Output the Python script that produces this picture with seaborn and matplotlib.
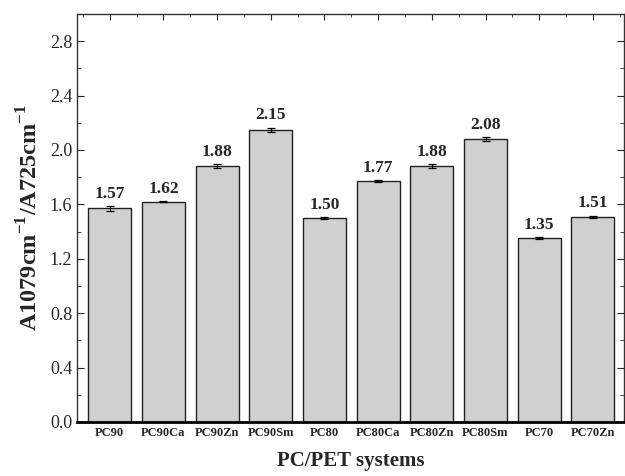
import matplotlib
matplotlib.use("Agg")
import matplotlib.pyplot as plt
import seaborn as sns
import numpy as np
from matplotlib.ticker import MultipleLocator

categories = ["PC90", "PC90Ca", "PC90Zn", "PC90Sm", "PC80", "PC80Ca", "PC80Zn", "PC80Sm", "PC70", "PC70Zn"]
values = [1.57, 1.62, 1.88, 2.15, 1.50, 1.77, 1.88, 2.08, 1.35, 1.51]
errors = [0.02, 0.006, 0.015, 0.015, 0.008, 0.006, 0.015, 0.015, 0.008, 0.008]
labels = ["1.57", "1.62", "1.88", "2.15", "1.50", "1.77", "1.88", "2.08", "1.35", "1.51"]

sns.set_style("ticks")
plt.rcParams['font.family'] = ['Liberation Serif', 'DejaVu Serif']
plt.rcParams['mathtext.fontset'] = 'custom'
plt.rcParams['mathtext.rm'] = 'Liberation Serif'
plt.rcParams['mathtext.bf'] = 'Liberation Serif:bold'

fig = plt.figure(figsize=(6.25, 4.76), dpi=100)
ax = fig.add_axes([77/625, 54/476, (624-77)/625, (422-14)/476])

sns.barplot(x=categories, y=values, color="#d0d0d0", edgecolor="#222222",
            linewidth=1.0, width=0.8, saturation=1, ax=ax, errorbar=None)
x = np.arange(len(categories))
ax.errorbar(x, values, yerr=errors, fmt="none", ecolor="black", elinewidth=0.9, capsize=3, capthick=0.9)
for xi, v, e, lab in zip(x, values, errors, labels):
    ax.text(xi, v + e + 0.03, lab, ha="center", va="bottom",
            fontsize=12.5, fontweight="bold")

ax.set_xlim(-0.61, 9.58)
ax.set_ylim(0, 3.0)
ax.yaxis.set_minor_locator(MultipleLocator(0.2))
ax.set_yticks(np.arange(0, 2.81, 0.4))
ax.set_yticklabels([f"{t:.1f}" for t in np.arange(0, 2.81, 0.4)], fontsize=13)
ax.tick_params(axis="y", which="both", direction="in", right=True, left=True, labelsize=13)
ax.tick_params(axis="y", which="major", length=5)
ax.tick_params(axis="y", which="minor", length=3)
ax.tick_params(axis="x", which="major", direction="in", top=True, bottom=True, length=4)
ax.set_xticks(x)
ax.set_xticklabels(categories, fontsize=9, fontweight="bold")
ax.set_xticks(np.arange(-0.5, 9.6, 1.0), minor=True)
ax.tick_params(axis="x", which="minor", direction="in", top=True, bottom=False, length=2)
for s in ax.spines.values():
    s.set_visible(True)
    s.set_linewidth(1.0)
    s.set_color("#333333")
ax.spines["bottom"].set_linewidth(2.0)
ax.spines["bottom"].set_color("black")
ax.set_xlabel("PC/PET systems", fontsize=15, fontweight="bold", labelpad=9)
ax.set_ylabel("A1079cm$^{\\mathbf{-1}}$/A725cm$^{\\mathbf{-1}}$", fontsize=17.5, fontweight="bold", labelpad=5)

fig.savefig("out.png", dpi=100)
